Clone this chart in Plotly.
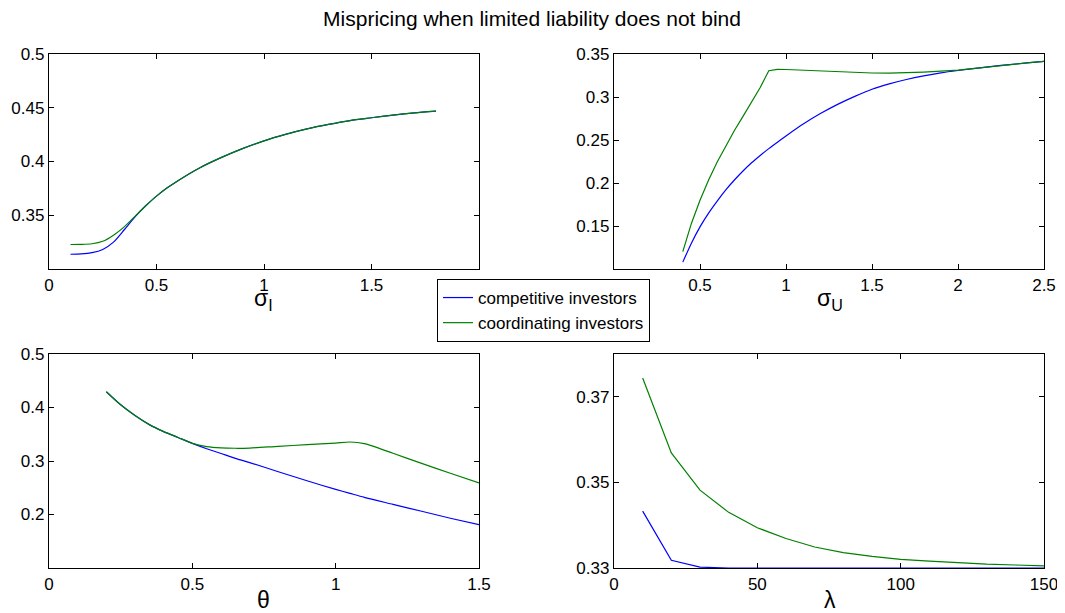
import plotly.graph_objects as go

# ---- data ----
sigI_x = [0.1, 0.15, 0.2, 0.25, 0.3, 0.35, 0.4, 0.45, 0.5, 0.55, 0.6, 0.7, 0.8, 0.9, 1.0,
          1.1, 1.2, 1.3, 1.4, 1.5, 1.6, 1.7, 1.8]
sigI_comp = [0.3137, 0.3140, 0.3152, 0.3182, 0.3250, 0.3365, 0.3485, 0.3588, 0.3678, 0.3755,
             0.3822, 0.3940, 0.4036, 0.4120, 0.4192, 0.4252, 0.4303, 0.4345, 0.4381, 0.4407,
             0.4432, 0.4452, 0.4468]
sigI_coord = [0.3228, 0.3229, 0.3235, 0.3258, 0.3315, 0.3392, 0.3490, 0.3588, 0.3678, 0.3755,
              0.3822, 0.3940, 0.4036, 0.4120, 0.4192, 0.4252, 0.4303, 0.4345, 0.4381, 0.4407,
              0.4432, 0.4452, 0.4468]

sigU_x = [0.4, 0.45, 0.5, 0.55, 0.6, 0.65, 0.7, 0.75, 0.8, 0.85, 0.9, 0.95, 1.0, 1.1, 1.2,
          1.3, 1.4, 1.5, 1.6, 1.7, 1.8, 1.9, 2.0, 2.1, 2.2, 2.3, 2.4, 2.5]
sigU_comp = [0.108, 0.130, 0.149, 0.165, 0.179, 0.192, 0.2035, 0.214, 0.2235, 0.232, 0.240,
             0.2475, 0.2547, 0.2685, 0.2807, 0.2914, 0.3007, 0.3090, 0.3152, 0.3203, 0.3245,
             0.3280, 0.3308, 0.3333, 0.3356, 0.3377, 0.3396, 0.3414]
sigU_coord = [0.1202, 0.153, 0.180, 0.2035, 0.2245, 0.2435, 0.261, 0.2775, 0.2935, 0.311,
              0.3306, 0.3321, 0.3320, 0.3312, 0.3302, 0.3292, 0.3284, 0.3279, 0.3278, 0.3282,
              0.3290, 0.3300, 0.3312, 0.3333, 0.3356, 0.3377, 0.3396, 0.3414]

theta_x = [0.2, 0.25, 0.3, 0.35, 0.4, 0.45, 0.5, 0.55, 0.6, 0.65, 0.7, 0.8, 0.9, 1.0, 1.05,
           1.1, 1.2, 1.3, 1.4, 1.5]
theta_comp = [0.4294, 0.405, 0.385, 0.368, 0.355, 0.344, 0.333, 0.323, 0.314, 0.305, 0.297,
              0.280, 0.263, 0.247, 0.2395, 0.232, 0.219, 0.206, 0.193, 0.181]
theta_coord = [0.4294, 0.405, 0.385, 0.368, 0.355, 0.344, 0.333, 0.327, 0.3245, 0.3238,
               0.3242, 0.3275, 0.3305, 0.3335, 0.3355, 0.3325, 0.3145, 0.2955, 0.277, 0.259]

lam_x = [10, 20, 30, 40, 50, 60, 70, 80, 90, 100, 110, 120, 130, 140, 150]
lam_comp = [0.3433, 0.3318, 0.3302, 0.3300, 0.3300, 0.3300, 0.3300, 0.3300, 0.3300, 0.3300,
            0.3300, 0.3300, 0.3300, 0.3300, 0.3300]
lam_coord = [0.3744, 0.3569, 0.3482, 0.3430, 0.3394, 0.3369, 0.3349, 0.3336, 0.3327, 0.3320,
             0.3316, 0.3312, 0.3309, 0.3307, 0.3305]

series_names = ["competitive investors", "coordinating investors"]
colors = ["#0000ff", "#008000"]
axis_titles = ["σ<sub>I</sub>", "σ<sub>U</sub>", "θ", "λ"]

# page body has an 8px default margin; size the figure so it fills the window
OFF = 8
FW, FH = 1065 - OFF, 613 - OFF
FONT = "Liberation Sans, Arial, Helvetica, sans-serif"


def fx(px):
    return (px - OFF) / FW


def fy(py):
    return 1 - (py - OFF) / FH


def dom_x(a, b):
    return [fx(a), fx(b)]


def dom_y(top, bottom):
    return [fy(bottom), fy(top)]


fig = go.Figure()

# (x, competitive, coordinating, xaxis, yaxis, shapes for the two curves)
panels = [
    (sigI_x, sigI_comp, sigI_coord, "x", "y", ("spline", "spline")),
    (sigU_x, sigU_comp, sigU_coord, "x2", "y2", ("spline", "linear")),
    (theta_x, theta_comp, theta_coord, "x3", "y3", ("spline", "spline")),
    (lam_x, lam_comp, lam_coord, "x4", "y4", ("linear", "linear")),
]
for i, (xs, c1, c2, xa, ya, shapes) in enumerate(panels):
    for j, ys in enumerate([c1, c2]):
        line = dict(color=colors[j], width=1.2, shape=shapes[j])
        if shapes[j] == "spline":
            line["smoothing"] = 0.7
        fig.add_trace(go.Scatter(
            x=xs, y=ys, mode="lines", name=series_names[j], line=line,
            xaxis=xa, yaxis=ya, showlegend=(i == 0), hoverinfo="x+y"))

common = dict(showline=True, linecolor="black", linewidth=1.3, mirror="ticks",
              ticks="inside", ticklen=5, tickcolor="black", tickwidth=1,
              showgrid=False, zeroline=False, automargin=False,
              tickfont=dict(family=FONT, size=17, color="black"))

title_font = dict(family=FONT, size=23, color="black")

# axis-title positions (page pixels: centre x, centre y)
title_pos = [(263, 299), (830, 299), (263, 600), (830, 600)]
annotations = []
for t, (px, py) in zip(axis_titles, title_pos):
    annotations.append(dict(text=t, x=fx(px), y=fy(py), xref="paper", yref="paper",
                            xanchor="center", yanchor="middle", showarrow=False,
                            font=title_font))

fig.update_layout(
    width=FW, height=FH,
    margin=dict(l=0, r=0, t=0, b=0, autoexpand=False),
    paper_bgcolor="white", plot_bgcolor="white",
    font=dict(family=FONT, color="black"),
    title=dict(text="Mispricing when limited liability does not bind",
               x=fx(532), xanchor="center", y=fy(19), yanchor="middle",
               font=dict(family=FONT, size=21, color="black")),
    xaxis=dict(domain=dom_x(49, 479), anchor="y", range=[0, 2],
               tickvals=[0, 0.5, 1, 1.5, 2], ticktext=["0", "0.5", "1", "1.5", "2"], **common),
    yaxis=dict(domain=dom_y(54, 269), anchor="x", range=[0.3, 0.5],
               tickvals=[0.35, 0.4, 0.45, 0.5], ticktext=["0.35", "0.4", "0.45", "0.5"],
               **common),
    xaxis2=dict(domain=dom_x(614, 1044), anchor="y2", range=[0, 2.5],
                tickvals=[0, 0.5, 1, 1.5, 2, 2.5],
                ticktext=["0", "0.5", "1", "1.5", "2", "2.5"], **common),
    yaxis2=dict(domain=dom_y(54, 269), anchor="x2", range=[0.1, 0.35],
                tickvals=[0.15, 0.2, 0.25, 0.3, 0.35],
                ticktext=["0.15", "0.2", "0.25", "0.3", "0.35"], **common),
    xaxis3=dict(domain=dom_x(49, 479), anchor="y3", range=[0, 1.5],
                tickvals=[0, 0.5, 1, 1.5], ticktext=["0", "0.5", "1", "1.5"], **common),
    yaxis3=dict(domain=dom_y(354, 568), anchor="x3", range=[0.1, 0.5],
                tickvals=[0.2, 0.3, 0.4, 0.5], ticktext=["0.2", "0.3", "0.4", "0.5"],
                **common),
    xaxis4=dict(domain=dom_x(614, 1044), anchor="y4", range=[0, 150],
                tickvals=[0, 50, 100, 150], ticktext=["0", "50", "100", "150"], **common),
    yaxis4=dict(domain=dom_y(354, 568), anchor="x4", range=[0.33, 0.38],
                tickvals=[0.33, 0.35, 0.37], ticktext=["0.33", "0.35", "0.37"],
                **common),
    legend=dict(x=fx(437), y=fy(279), xanchor="left", yanchor="top",
                bgcolor="white", bordercolor="black", borderwidth=1,
                font=dict(family=FONT, size=17, color="black"),
                itemwidth=30, tracegroupgap=0),
    annotations=annotations,
    showlegend=True,
)

fig.write_html("out.html")
